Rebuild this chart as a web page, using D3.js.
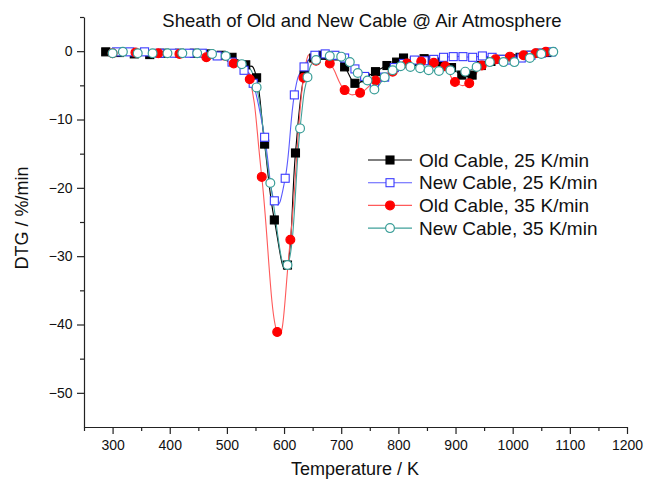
<!DOCTYPE html>
<html><head><meta charset="utf-8">
<script src="https://cdn.jsdelivr.net/npm/d3@7"></script>
<style>body{margin:0;background:#fff}svg{display:block}</style></head>
<body><svg id="c" width="658" height="480"></svg>
<script>
const title = "Sheath of Old and New Cable @ Air Atmosphere";
const xLabel = "Temperature / K";
const yLabel = "DTG / %/min";
const xTicks = [300,400,500,600,700,800,900,1000,1100,1200];
const xMinor = [250,350,450,550,650,750,850,950,1050,1150];
const yTicks = [0,-10,-20,-30,-40,-50];
const yMinor = [5,-5,-15,-25,-35,-45];
const seriesNames = ["Old Cable, 25 K/min","New Cable, 25 K/min","Old Cable, 35 K/min","New Cable, 35 K/min"];

const oldCable25 = [[288,-0.1],[312,-0.2],[338,-0.4],[365,-0.5],[391,-0.3],[417,-0.3],[443,-0.3],[469,-0.4],[490,-0.6],[509,-0.9],[533,-2.0],[552,-3.9],[566,-13.6],[583,-24.7],[606,-31.3],[620,-14.9],[635,-3.5],[652,-1.0],[668,-0.6],[688,-0.7],[706,-2.3],[724,-4.7],[742,-3.9],[760,-3.0],[780,-2.1],[797,-1.6],[809,-1.0],[828,-1.5],[845,-1.1],[859,-1.3],[876,-1.6],[893,-2.4],[911,-3.5],[929,-3.5],[945,-2.1],[962,-1.5],[980,-1.2],[997,-1.1],[1013,-0.9],[1030,-0.6],[1046,-0.3],[1060,-0.2]];
const newCable25 = [[307,-0.1],[330,-0.1],[356,-0.1],[382,-0.3],[408,-0.3],[434,-0.3],[457,-0.3],[483,-0.7],[509,-1.6],[530,-2.8],[546,-4.7],[566,-12.6],[583,-21.9],[602,-18.6],[618,-6.4],[635,-2.3],[654,-0.6],[672,-0.4],[689,-0.6],[706,-1.0],[724,-2.6],[741,-3.7],[758,-4.7],[776,-3.8],[793,-2.4],[809,-1.8],[828,-1.3],[845,-1.4],[862,-1.2],[879,-0.9],[896,-0.8],[913,-0.8],[930,-0.9],[947,-0.7],[964,-0.9],[981,-1.2],[998,-1.3],[1015,-1.0],[1032,-0.6],[1050,-0.3],[1068,-0.1]];
const oldCable35 = [[300,-0.3],[340,-0.2],[380,-0.3],[417,-0.4],[464,-0.9],[512,-1.8],[540,-4.1],[561,-18.4],[588,-41.1],[611,-27.6],[634,-3.9],[656,-1.4],[680,-1.8],[706,-5.7],[733,-6.1],[760,-4.3],[790,-3.0],[815,-1.8],[840,-1.5],[862,-1.7],[882,-2.2],[899,-4.5],[924,-4.7],[946,-2.1],[970,-1.2],[995,-0.8],[1019,-0.6],[1040,-0.3],[1058,-0.1]];
const newCable35 = [[300,-0.3],[318,-0.1],[344,-0.3],[370,-0.3],[396,-0.3],[422,-0.3],[448,-0.3],[474,-0.4],[498,-0.7],[526,-1.9],[552,-5.3],[576,-19.3],[606,-31.3],[628,-11.3],[641,-3.8],[656,-1.3],[680,-0.7],[700,-0.8],[715,-1.6],[729,-3.2],[746,-4.3],[758,-5.6],[776,-3.8],[790,-2.8],[804,-2.2],[821,-2.3],[838,-2.5],[853,-2.8],[871,-2.9],[891,-2.8],[917,-3.0],[937,-2.3],[960,-1.6],[984,-1.6],[1003,-1.6],[1030,-1.0],[1050,-0.4],[1071,-0.1]];

const seriesData = [oldCable25, newCable25, oldCable35, newCable35];
const lineColors = ["#000000","#5a5aff","#ff5a5a","#3fa09a"];
const markerType = ["square","square","circle","circle"];
const markerFill = ["#000000","#ffffff","#ff0000","#ffffff"];
const markerStroke = ["#000000","#3a3aff","#ff0000","#3a9e98"];

const FONT = "'Liberation Sans', Arial, sans-serif";
const svg = d3.select("#c");
const x = d3.scaleLinear().domain([250,1200]).range([84,627]);
const y = d3.scaleLinear().domain([-55,5]).range([427,17]);

// axes
const gx = svg.append("g").attr("transform",`translate(0,${y(-55)})`)
  .call(d3.axisBottom(x).tickValues(xTicks).tickSize(7).tickSizeOuter(0).tickFormat(d3.format("d")));
const gxm = svg.append("g").attr("transform",`translate(0,${y(-55)})`)
  .call(d3.axisBottom(x).tickValues(xMinor).tickSize(4).tickFormat(""));
gxm.select(".domain").remove();
const gy = svg.append("g").attr("transform",`translate(${x(250)},0)`)
  .call(d3.axisLeft(y).tickValues(yTicks).tickSize(7).tickSizeOuter(0).tickFormat(d3.format("d")));
const gym = svg.append("g").attr("transform",`translate(${x(250)},0)`)
  .call(d3.axisLeft(y).tickValues(yMinor).tickSize(4).tickFormat(""));
gym.select(".domain").remove();
svg.selectAll(".tick text").attr("font-family",FONT).attr("font-size",14).attr("fill","#111");
svg.selectAll(".domain, .tick line").attr("stroke","#222").attr("stroke-width",1.2);
gx.selectAll(".tick text").attr("dy","0.9em");
gy.selectAll(".tick text").attr("dx","-0.1em");

// lines
const line = d3.line().x(d=>x(d[0])).y(d=>y(d[1])).curve(d3.curveCardinal.tension(-0.4));
function drawMarker(g, i, cx, cy){
  if(markerType[i]==="square"){
    g.append("rect").attr("x",cx-4).attr("y",cy-4).attr("width",8).attr("height",8)
      .attr("fill",markerFill[i]).attr("stroke",markerStroke[i]).attr("stroke-width",1.1);
  } else {
    g.append("circle").attr("cx",cx).attr("cy",cy).attr("r",4.4)
      .attr("fill",markerFill[i]).attr("stroke",markerStroke[i]).attr("stroke-width",1.2);
  }
}
seriesData.forEach((data,i)=>{
  svg.append("path").datum(data).attr("d",line).attr("fill","none")
    .attr("stroke",lineColors[i]).attr("stroke-width",1.1);
});
seriesData.forEach((data,i)=>{
  const g = svg.append("g");
  data.forEach(d=>drawMarker(g,i,x(d[0]),y(d[1])));
});

// legend
const lg = svg.append("g");
seriesNames.forEach((name,i)=>{
  const cy = 160 + i*22.7;
  lg.append("line").attr("x1",368).attr("x2",412).attr("y1",cy).attr("y2",cy)
    .attr("stroke",lineColors[i]).attr("stroke-width",1.1);
  drawMarker(lg,i,390,cy);
  lg.append("text").attr("x",419).attr("y",cy).attr("dy","0.35em")
    .attr("font-family",FONT).attr("font-size",19).attr("fill","#111").text(name);
});

// titles
svg.append("text").attr("x",362).attr("y",27).attr("text-anchor","middle")
  .attr("font-family",FONT).attr("font-size",18.5).attr("fill","#111").text(title);
svg.append("text").attr("x",355).attr("y",475).attr("text-anchor","middle")
  .attr("font-family",FONT).attr("font-size",18).attr("fill","#111").text(xLabel);
svg.append("text").attr("transform","translate(28,218) rotate(-90)").attr("text-anchor","middle")
  .attr("font-family",FONT).attr("font-size",18).attr("fill","#111").text(yLabel);
</script></body></html>
